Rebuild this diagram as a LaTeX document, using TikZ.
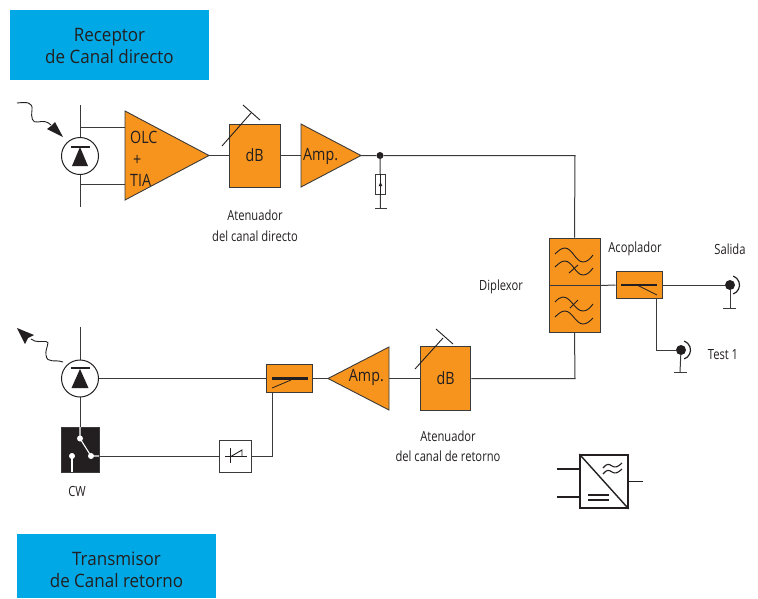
\documentclass[tikz,border=0pt]{standalone}
\usepackage{fontspec}
\setmainfont{Open Sans}
\newfontfamily\narrowfont[FakeStretch=0.84]{Open Sans}
\newfontfamily\labelfont[FakeStretch=0.80]{Open Sans}
\newfontfamily\headfont[FakeStretch=0.92]{Open Sans}
\usetikzlibrary{calc}
\definecolor{orangeblk}{HTML}{F7941D}
\definecolor{bluehead}{HTML}{00A9E5}
\definecolor{inkc}{HTML}{231F20}
\definecolor{wirec}{HTML}{3A3A3A}
\tikzset{
  wire/.style={draw=wirec,line width=1pt},
  orangebox/.style={draw=wirec,line width=1pt,fill=orangeblk,rectangle,inner sep=0pt},
  ampshape/.style={draw=wirec,line width=.9pt,fill=orangeblk,line join=miter},
  headtext/.style={inner sep=0pt,text=inkc,align=center,font=\headfont\fontsize{18.5}{22}\selectfont},
  blocktext/.style={inner sep=0pt,text=inkc,font=\narrowfont\fontsize{17}{20}\selectfont},
  lbl/.style={inner sep=0pt,text=inkc,align=center,font=\labelfont\fontsize{14}{20.5}\selectfont},
  dot/.style={circle,fill=inkc,inner sep=0pt,minimum size=#1},
  diode/.style={circle,draw=inkc,line width=1pt,fill=white,minimum size=37pt,inner sep=0pt},
}
\begin{document}
\begin{tikzpicture}[x=1pt,y=-1pt]
\useasboundingbox (0,0) rectangle (758,598);
% headers
\fill[bluehead] (10,10) rectangle (209,80);
\fill[bluehead] (17,534) rectangle (216,598);
\node[headtext] (h1) at (109.5,46) {Receptor\\de Canal directo};
\node[headtext] (h2) at (116.5,570) {Transmisor\\de Canal retorno};

% ---------- forward path ----------
\coordinate (d1t) at (80,105); \coordinate (d1b) at (80,207);
\draw[wire] (d1t) -- (d1b);
\node[diode] (d1) at (80,156) {};
\coordinate (a1) at (125,111); \coordinate (a2) at (125,200); \coordinate (a3) at (209,155.5);
\draw[wire] (80,127) -- (125,127);
\draw[wire] (80,184) -- (125,184);
\draw[ampshape] (a1) -- (a2) -- (a3) -- cycle;
\node[blocktext,anchor=west] (olc) at (130,137) {OLC};
\node[blocktext,anchor=west] (plus) at (130,160) {\,+};
\node[blocktext,anchor=west] (tia) at (130,180) {TIA};
% diode glyph
\fill[inkc] (80,147) -- (88,166) -- (72,166) -- cycle;
\draw[inkc,line width=1.5pt] (71,147) -- (90,147);
% light in
\coordinate (s1) at (17,103);
\draw[inkc,line width=.9pt] (s1) .. controls (27,102) and (33,102) .. (32,110) .. controls (31,118) and (32,123) .. (38,122) .. controls (43,121) and (47,121) .. (51,125);
\fill[inkc] (63,137) -- (47,129) -- (51,126) -- (55,122) -- cycle;

\node[orangebox,minimum width=51pt,minimum height=63pt,blocktext] (db1) at (254.5,155.5) {dB};
\draw[wire] (a3) -- (db1.west);
\draw[inkc,line width=.9pt] (222,146) -- (251,113);
\draw[inkc,line width=.9pt] (243,105) -- (260,120);
\coordinate (b1) at (301,124); \coordinate (b2) at (301,187); \coordinate (b3) at (361,155.5);
\draw[wire] (db1.east) -- (301,155.5);
\draw[ampshape] (b1) -- (b2) -- (b3) -- cycle;
\node[blocktext,anchor=west] (amp1) at (303,156.5) {Amp.};
\node[dot=7pt] (j1) at (380,155.5) {};
\coordinate (dipin) at (575,155.5);
\node[orangebox,minimum width=51pt,minimum height=47pt] (dipA) at (574.5,261.5) {};
\node[orangebox,minimum width=51pt,minimum height=47pt] (dipB) at (574.5,308.5) {};
\draw[wire] (b3) -- (j1) -- (dipin) -- (dipA.north);
% load
\coordinate (g1) at (380.5,208.5);
\draw[wire] (j1.center) -- (g1);
\node[draw=wirec,line width=1pt,fill=white,minimum width=10pt,minimum height=20pt,inner sep=0pt] (rl) at (380.5,184) {};
\draw[inkc,line width=.8pt] (rl.north) -- (rl.south);
\fill[inkc] (380.5,182) -- (382.3,186) -- (378.7,186) -- cycle;
\draw[wire] (375,208.5) -- (387,208.5);

\node[lbl] (l1) at (255,225.5) {Atenuador\\del canal directo};

% diplexor filters
\begin{scope}[inkc,line width=.9pt]
\draw (555,254) .. controls (559,250) and (562,248) .. (565,248) .. controls (572,248) and (576,262) .. (583,262) .. controls (587,262) and (590,259) .. (593,255);
\draw (555,267) .. controls (559,263) and (562,261) .. (565,261) .. controls (572,261) and (576,275) .. (583,275) .. controls (587,275) and (590,272) .. (593,268);
\draw (569,273) -- (578,265);
\draw (555,302) .. controls (558,299) and (560,297) .. (563,297) .. controls (571,297) and (575,311) .. (583,311) .. controls (587,311) and (590,308) .. (593,304);
\draw (555,317) .. controls (559,313) and (562,311) .. (565,311) .. controls (572,311) and (576,324) .. (583,324) .. controls (587,324) and (590,321) .. (593,318);
\draw (570,308) -- (578,300);
\end{scope}
\node[lbl] (dlab) at (501,287) {Diplexor};

% coupler out
\node[orangebox,minimum width=46pt,minimum height=27.5pt] (cp1) at (639,285) {};
\draw[wire] (dipA.south east) -- (cp1.west);
\draw[inkc,line width=2.4pt] (621,285) -- (657,285);
\draw[inkc,line width=.8pt] (637,285) -- (657,295);
\node[lbl] (lac) at (635,249) {Acoplador};
\node[dot=10pt] (o1) at (730,285) {};
\draw[wire] (cp1.east) -- (o1);
\draw[inkc,line width=1.2pt] ($(o1)+(70:9.5)$) arc[start angle=70,end angle=-70,radius=9.5pt,y radius=-9.5pt];
\coordinate (og1) at (730,308);
\draw[wire] (o1) -- (og1);
\draw[wire] (723,308) -- (736,308);
\node[lbl] (lsal) at (730,249) {Salida};
\node[dot=10pt] (o2) at (681,350) {};
\coordinate (c1) at (656.5,350);
\draw[wire] (c1 |- cp1.south) -- (c1) -- (o2);
\draw[inkc,line width=1.2pt] ($(o2)+(70:9.5)$) arc[start angle=70,end angle=-70,radius=9.5pt,y radius=-9.5pt];
\coordinate (og2) at (680,372);
\draw[wire] (o2) -- (og2);
\draw[wire] (674,372) -- (687,372);
\node[lbl] (ltest) at (723,355) {Test 1};

% ---------- return path ----------
\coordinate (dipout) at (575,378.5);
\node[orangebox,minimum width=50.5pt,minimum height=63.5pt,blocktext] (db2) at (445.7,378.5) {dB};
\draw[wire] (dipB.south) -- (dipout) -- (db2.east);
\draw[inkc,line width=.9pt] (415,369) -- (443,338);
\draw[inkc,line width=.9pt] (436,329) -- (453,344);
\coordinate (e1) at (389,347); \coordinate (e2) at (389,410); \coordinate (e3) at (328,378.5);
\draw[wire] (db2.west) -- (389,378.5);
\draw[ampshape] (e1) -- (e2) -- (e3) -- cycle;
\node[blocktext,anchor=east] (amp2) at (384,377.5) {Amp.};
\node[orangebox,minimum width=46.5pt,minimum height=27.5pt] (cp2) at (289.5,378.5) {};
\draw[wire] (e3) -- (cp2.east);
\draw[inkc,line width=2.4pt] (272,378.5) -- (308,378.5);
\draw[inkc,line width=.8pt] (272,388) -- (291,380);
\node[lbl] (l2) at (448,446) {Atenuador\\del canal de retorno};

\coordinate (d2t) at (80,327);
\draw[wire] (d2t) -- (80,427);
\node[diode] (d2) at (80,378.5) {};
\fill[inkc] (80,369) -- (88.5,388) -- (71.5,388) -- cycle;
\draw[inkc,line width=1.5pt] (71,368) -- (90,368);
\draw[wire] (d2.east) -- (cp2.west);
% light out
\draw[inkc,line width=.9pt] (63,362) .. controls (55,359) and (47,364) .. (46,355) .. controls (45,347) and (51,342) .. (46,341.5) .. controls (41,341) and (36,343) .. (31,339);
\fill[inkc] (17,328) -- (34,335) -- (28,338) -- (25,344) -- cycle;

% CW switch
\node[rectangle,fill=inkc,draw=wirec,line width=.8pt,minimum width=37.5pt,minimum height=45pt,inner sep=0pt] (cw) at (80.2,449.5) {};
\draw[white,line width=1.1pt] (80,427) -- (80,438.5) -- (91,456) -- (99,456);
\draw[white,line width=1.1pt] (72,456) -- (72,472);
\node[dot=6pt,fill=white] (sw1) at (80,438.5) {};
\node[dot=6pt,fill=white] (sw2) at (91,456) {};
\node[dot=6pt,fill=white] (sw3) at (72,456) {};
\node[lbl] (lcw) at (77,491) {CW};

% isolator
\node[rectangle,draw=wirec,line width=1pt,fill=white,minimum width=32.5pt,minimum height=32pt,inner sep=0pt] (iso) at (235.7,456) {};
\coordinate (c2) at (272,456);
\draw[wire] (99,456) -- (iso.west);
\draw[wire] (iso.east) -- (c2) -- (c2 |- cp2.south);
\draw[inkc,line width=.8pt] (225,456) -- (247,456);
\draw[inkc,line width=.9pt] (230,448) -- (230,463);
\draw[inkc,line width=.9pt] (230,457) -- (242,450) -- (242,456);

% converter symbol
\node[rectangle,draw=inkc,line width=1.8pt,fill=white,minimum width=47.5pt,minimum height=53pt,inner sep=0pt] (pw) at (604,481.5) {};
\draw[inkc,line width=1.4pt] (pw.north west) -- (pw.south east);
\coordinate (pi1) at (557,469); \coordinate (pi2) at (557,497); \coordinate (po) at (643,481.5);
\draw[inkc,line width=1.5pt] (pi1) -- (pi1 -| pw.west);
\draw[inkc,line width=1.5pt] (pi2) -- (pi2 -| pw.west);
\draw[inkc,line width=1.5pt] (pw.east) -- (po);
\draw[inkc,line width=1.2pt] (588,495) -- (609,495);
\draw[inkc,line width=1.2pt] (588,500) -- (609,500);
\draw[inkc,line width=1.1pt] (603,468) .. controls (607,463) and (609,464) .. (612,466) .. controls (615,468) and (618,467) .. (622,463);
\draw[inkc,line width=1.1pt] (603,474) .. controls (607,469) and (609,470) .. (612,472) .. controls (615,474) and (618,473) .. (622,469);
\end{tikzpicture}
\end{document}
